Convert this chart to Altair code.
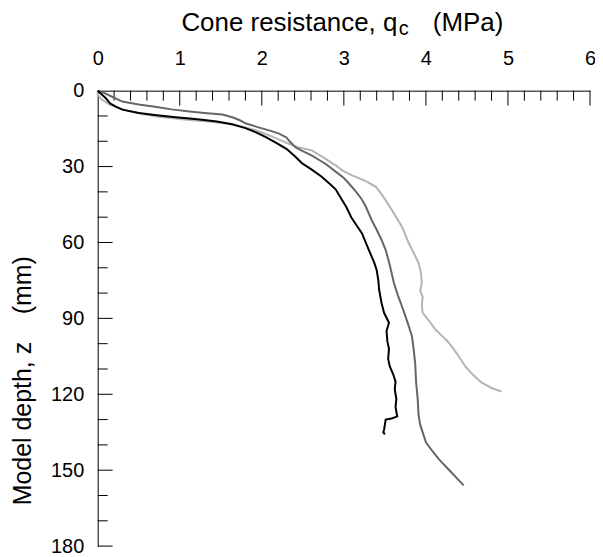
import altair as alt
import pandas as pd

# ---- data ----
black_q = [0, 0.05, 0.1, 0.15, 0.22, 0.3, 0.5, 0.72, 0.95, 1.12, 1.3, 1.45, 1.64, 1.8, 1.93, 2.05, 2.17, 2.3, 2.4, 2.49,
           2.6, 2.73, 2.82, 2.9, 2.98, 3.03, 3.09, 3.15, 3.22, 3.28, 3.34, 3.37, 3.4, 3.42, 3.43, 3.46, 3.49, 3.55, 3.52,
           3.53, 3.55, 3.54, 3.56, 3.6, 3.63, 3.62, 3.64, 3.63, 3.65, 3.58, 3.51, 3.5, 3.49, 3.48, 3.5]
black_z = [0, 1.5, 3, 5, 6.3, 7.5, 8.8, 9.7, 10.5, 11.0, 11.6, 12.2, 13.3, 14.8, 16.5, 18.4, 20.5, 23, 25.8, 28.7,
           31, 34, 36.6, 39, 43.3, 46, 50, 53, 56.3, 61, 65.7, 68, 70.9, 75, 78.7, 84, 87.8, 91.7, 95,
           99, 102, 106, 109, 112, 115, 118, 122, 125, 128.7, 129.6, 130, 132, 134, 135, 135.8]

mid_q = [0, 0.07, 0.15, 0.3, 0.5, 0.72, 0.9, 1.12, 1.3, 1.52, 1.64, 1.72, 1.81, 1.95, 2.1, 2.21, 2.3, 2.33, 2.41, 2.48,
         2.6, 2.73, 2.78, 2.9, 3.0, 3.06, 3.15, 3.22, 3.27, 3.34, 3.4, 3.46, 3.51, 3.56, 3.61, 3.66, 3.71, 3.77, 3.83,
         3.85, 3.87, 3.88, 3.9, 3.91, 3.93, 4.0, 4.08, 4.16, 4.3, 4.46]
mid_z = [0, 0.8, 2, 4.3, 5.5, 6.5, 7.4, 8.2, 8.8, 9.4, 10.5, 11.5, 13, 14.4, 15.8, 17, 18.5, 19.7, 22.3, 23.6,
         25.5, 28, 29, 32, 34.5, 36.6, 40, 43, 46, 51.2, 55, 59, 63, 69, 76, 81, 85.4, 91, 97,
         102, 108, 115, 122, 128, 132, 139, 142.5, 145.7, 150.5, 156]

light_q = [0, 0.0, 0.05, 0.15, 0.35, 0.55, 0.72, 0.95, 1.12, 1.35, 1.52, 1.64, 1.8, 1.93, 2.1, 2.33, 2.45, 2.61, 2.73,
           2.9, 2.98, 3.1, 3.25, 3.39, 3.45, 3.51, 3.6, 3.71, 3.75, 3.79, 3.85, 3.91, 3.94, 3.95, 3.93, 3.96, 3.95,
           3.96, 4.05, 4.12, 4.2, 4.28, 4.38, 4.48, 4.58, 4.68, 4.8, 4.92]
light_z = [0, 1.5, 3.5, 5.6, 7.8, 9.2, 10.2, 11.0, 11.6, 12.2, 12.8, 13.4, 14.5, 15.7, 17.8, 21, 22.5, 23.6, 26,
           29.5, 31.5, 33.5, 35.5, 38, 40.5, 43.3, 48, 53.9, 57, 60.2, 64, 68, 72, 76, 79, 81.5, 85,
           87.8, 91.5, 94.5, 97, 99.6, 104, 109, 112.5, 115.4, 117.5, 118.9]

x_labels = [0, 1, 2, 3, 4, 5, 6]
x_minor = [0.2, 0.4, 0.6, 0.8, 1.2, 1.4, 1.6, 1.8, 2.2, 2.4, 2.6, 2.8, 3.2, 3.4, 3.6, 3.8,
           4.2, 4.4, 4.6, 4.8, 5.2, 5.4, 5.6, 5.8]
x_major = [1, 2, 3, 4, 5, 6]
y_labels = [0, 30, 60, 90, 120, 150, 180]
y_minor = [10, 20, 40, 50, 70, 80, 100, 110, 130, 140, 160, 170]
y_major = [30, 60, 90, 120, 150, 180]

series = [("light", light_q, light_z, "#b4b4b4"),
          ("mid", mid_q, mid_z, "#666666"),
          ("black", black_q, black_z, "#000000")]

W, H = 494, 457
FONT = "Liberation Sans"
NB = "\u00a0"

xs = alt.Scale(domain=[0, 6], nice=False)
ys = alt.Scale(domain=[0, 180], nice=False, reverse=True)

layers = []

# axes (labels + domain lines only)
axes_df = pd.DataFrame({"q": [0, 6], "z": [0, 180]})
base_axes = alt.Chart(axes_df).mark_point(opacity=0).encode(
    x=alt.X("q:Q", scale=xs, axis=alt.Axis(orient="top", values=x_labels, format="d", ticks=False, grid=False,
                                             labelFontSize=20, labelPadding=22, labelFont=FONT, labelFlush=False,
                                             labelColor="#000", domainColor="#000", title=None)),
    y=alt.Y("z:Q", scale=ys, axis=alt.Axis(orient="left", values=y_labels, format="d", ticks=False, grid=False,
                                             labelFontSize=20, labelPadding=14, labelFont=FONT, labelFlush=False,
                                             labelColor="#000", domainColor="#000", title=None)),
)
layers.append(base_axes)

# inward ticks
layers.append(alt.Chart(pd.DataFrame({"q": x_minor})).mark_rule(color="#000", strokeWidth=1).encode(
    x=alt.X("q:Q", scale=xs), y=alt.value(0), y2=alt.value(10)))
layers.append(alt.Chart(pd.DataFrame({"q": x_major})).mark_rule(color="#000", strokeWidth=1).encode(
    x=alt.X("q:Q", scale=xs), y=alt.value(0), y2=alt.value(15)))
layers.append(alt.Chart(pd.DataFrame({"z": y_minor})).mark_rule(color="#000", strokeWidth=1).encode(
    y=alt.Y("z:Q", scale=ys), x=alt.value(0), x2=alt.value(10)))
layers.append(alt.Chart(pd.DataFrame({"z": y_major})).mark_rule(color="#000", strokeWidth=1).encode(
    y=alt.Y("z:Q", scale=ys), x=alt.value(0), x2=alt.value(15)))

# curves
for name, qv, zv, col in series:
    df = pd.DataFrame({"q": qv, "z": zv, "i": list(range(len(qv)))})
    layers.append(alt.Chart(df).mark_line(color=col, strokeWidth=2).encode(
        x=alt.X("q:Q", scale=xs), y=alt.Y("z:Q", scale=ys), order="i:Q"))

# titles as text
one = pd.DataFrame({"a": [0]})
layers.append(alt.Chart(one).mark_text(text="Cone resistance, q", font=FONT, fontSize=26, align="left",
                                       baseline="alphabetic", color="#000").encode(
    x=alt.value(182 - 98), y=alt.value(30 - 90)))
layers.append(alt.Chart(one).mark_text(text="c", font=FONT, fontSize=20, align="left",
                                       baseline="alphabetic", color="#000").encode(
    x=alt.value(400 - 98), y=alt.value(34 - 90)))
layers.append(alt.Chart(one).mark_text(text="(MPa)", font=FONT, fontSize=26, align="right",
                                       baseline="alphabetic", color="#000").encode(
    x=alt.value(505 - 98), y=alt.value(30 - 90)))
layers.append(alt.Chart(one).mark_text(text="Model depth, z" + NB * 4 + "(mm)", font=FONT, fontSize=25,
                                       align="center", baseline="middle", angle=270, color="#000").encode(
    x=alt.value(23 - 98), y=alt.value(381 - 90)))

chart = alt.layer(*layers).properties(
    width=W, height=H,
    autosize=alt.AutoSizeParams(type="none"),
    padding={"left": 90, "top": 82, "right": 5, "bottom": 14},
).configure_view(stroke=None).configure_axis(domainWidth=1)

chart.save("out.html", embed_options={"renderer": "svg", "actions": False})
